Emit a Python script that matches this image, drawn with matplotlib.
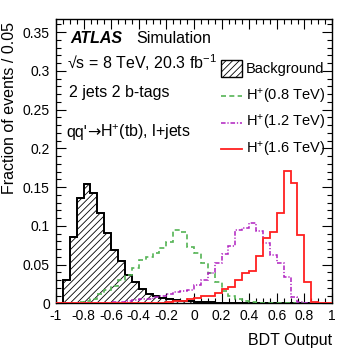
import matplotlib
matplotlib.use('Agg')
import matplotlib.pyplot as plt
import numpy as np
from matplotlib.patches import Rectangle
from matplotlib.lines import Line2D

plt.rcParams['font.family'] = ['Liberation Sans', 'DejaVu Sans']
plt.rcParams['mathtext.fontset'] = 'custom'
plt.rcParams['mathtext.rm'] = 'Liberation Sans'
plt.rcParams['mathtext.it'] = 'Liberation Sans:italic'
plt.rcParams['mathtext.bf'] = 'Liberation Sans:bold'
plt.rcParams['hatch.linewidth'] = 0.6

# ---------------- data ----------------
bin_edges = np.round(np.linspace(-1.0, 1.0, 41), 3)

background = [0.000, 0.030, 0.085, 0.136, 0.154, 0.142, 0.116, 0.091, 0.069, 0.054,
              0.037, 0.028, 0.018, 0.012, 0.009, 0.007, 0.005, 0.004, 0.003, 0.003,
              0.002, 0.002, 0.002, 0.001, 0.001, 0.001, 0.001, 0.001, 0.001, 0.001,
              0.001, 0.0008, 0.0008, 0.0006, 0.0006, 0.0005, 0.0005, 0.0004, 0.0003, 0.0002]

hp_08 = [0.000, 0.001, 0.001, 0.002, 0.003, 0.006, 0.012, 0.017, 0.022, 0.030,
         0.037, 0.045, 0.056, 0.060, 0.065, 0.072, 0.079, 0.094, 0.092, 0.073,
         0.065, 0.052, 0.039, 0.028, 0.016, 0.010, 0.005, 0.003, 0.002, 0.001,
         0.001, 0.0005, 0.0005, 0.0005, 0.0005, 0.0005, 0.0005, 0.0005, 0.0005, 0.0005]

hp_12 = [0.000, 0.000, 0.0005, 0.0005, 0.001, 0.001, 0.001, 0.001, 0.002, 0.002,
         0.003, 0.004, 0.005, 0.006, 0.008, 0.010, 0.012, 0.015, 0.016, 0.017,
         0.024, 0.030, 0.039, 0.052, 0.064, 0.074, 0.094, 0.097, 0.104, 0.093,
         0.078, 0.062, 0.052, 0.034, 0.008, 0.002, 0.0005, 0.000, 0.000, 0.000]

hp_16 = [0.0003, 0.0003, 0.0003, 0.0003, 0.0003, 0.0003, 0.0003, 0.0003, 0.0003, 0.0003,
         0.001, 0.001, 0.001, 0.001, 0.001, 0.001, 0.002, 0.003, 0.003, 0.006,
         0.007, 0.010, 0.009, 0.013, 0.018, 0.021, 0.030, 0.039, 0.042, 0.061,
         0.084, 0.092, 0.116, 0.171, 0.155, 0.088, 0.027, 0.002, 0.000, 0.000]

x_ticks = [-1.0, -0.8, -0.6, -0.4, -0.2, 0.0, 0.2, 0.4, 0.6, 0.8, 1.0]
x_ticklabels = ['-1', '-0.8', '-0.6', '-0.4', '-0.2', '0', '0.2', '0.4', '0.6', '0.8', '1']
y_ticks = [0.0, 0.05, 0.10, 0.15, 0.20, 0.25, 0.30, 0.35]
y_ticklabels = ['0', '0.05', '0.1', '0.15', '0.2', '0.25', '0.3', '0.35']

legend_labels = ['Background', r'H$^{+}$(0.8 TeV)', r'H$^{+}$(1.2 TeV)', r'H$^{+}$(1.6 TeV)']

# ---------------- figure ----------------
W, H = 349, 361
fig = plt.figure(figsize=(W / 100, H / 100), dpi=100)
ax = fig.add_axes([56 / W, 1 - 303.3 / H, 276 / W, (303.3 - 19) / H])

def fx(x):
    return x / W

def fy(y):
    return 1 - y / H

green = '#55b455'
magenta = '#b020c0'
red = '#ff2020'
hatch = '/////'

ax.stairs(background, bin_edges, fill=True, facecolor='white', edgecolor='black',
          hatch=hatch, linewidth=1.2, zorder=2)
ax.stairs(background, bin_edges, fill=False, color='black', linewidth=1.3, zorder=3)
ax.stairs(hp_08, bin_edges, color=green, linewidth=1.2, linestyle=(0, (3.0, 2.0)), zorder=4)
ax.stairs(hp_12, bin_edges, color=magenta, linewidth=1.1,
          linestyle=(0, (3.0, 1.2, 0.8, 1.2)), zorder=5)
ax.stairs(hp_16, bin_edges, color=red, linewidth=1.3, zorder=6)

ax.set_xlim(-1.0, 1.0)
ax.set_ylim(0.0, 0.367)
ax.set_xticks(x_ticks)
ax.set_xticklabels(x_ticklabels)
ax.set_yticks(y_ticks)
ax.set_yticklabels(y_ticklabels)
ax.set_xticks(np.arange(-1.0, 1.0001, 0.05), minor=True)
ax.set_yticks(np.arange(0.0, 0.367, 0.01), minor=True)
ax.tick_params(which='both', direction='in', top=True, right=True, labelsize=10, width=0.8)
ax.tick_params(which='major', length=7)
ax.tick_params(which='minor', length=3.5)
ax.tick_params(axis='x', pad=4)
ax.tick_params(axis='y', pad=4.5)
for s in ax.spines.values():
    s.set_linewidth(1.0)

ax.set_xlabel('BDT Output', fontsize=11.5, ha='right')
ax.xaxis.set_label_coords(1.0, -0.105)
fig.text(fx(10), fy(22), 'Fraction of events / 0.05', rotation=90, fontsize=11.5,
         ha='center', va='top')

# annotations
fig.text(fx(70), fy(43), 'ATLAS', fontsize=11.5, fontweight='bold', fontstyle='italic', va='baseline')
fig.text(fx(136), fy(43), 'Simulation', fontsize=11.5, va='baseline')
fig.text(fx(67), fy(69), '\u221As = 8 TeV, 20.3 fb$^{-1}$', fontsize=11.5, va='baseline')
fig.text(fx(69), fy(97), '2 jets 2 b-tags', fontsize=11.5, va='baseline')
t1 = fig.text(fx(66), fy(137), "qq'", fontsize=11.5, va='baseline')
t2 = ax.annotate('\u2192', xy=(1, fy(137)), xycoords=(t1, 'figure fraction'),
                 fontsize=11.5, va='baseline', ha='left', family='DejaVu Sans',
                 annotation_clip=False)
ax.annotate('H$^{+}$(tb), l+jets', xy=(1, fy(137)), xycoords=(t2, 'figure fraction'),
            fontsize=11.5, va='baseline', ha='left', annotation_clip=False)

# legend (manual)
leg_y = [68, 96, 122.5, 149]
leg_base = [73, 100.5, 127, 154]
fig.patches.append(Rectangle((fx(221), fy(77)), fx(21), 17 / H, transform=fig.transFigure,
                             facecolor='white', edgecolor='black', hatch=hatch, linewidth=1.0))
styles = [None,
          dict(color=green, linewidth=1.2, linestyle=(0, (3.0, 2.0))),
          dict(color=magenta, linewidth=1.1, linestyle=(0, (3.0, 1.2, 0.8, 1.2))),
          dict(color=red, linewidth=1.3)]
for i, lab in enumerate(legend_labels):
    if styles[i] is not None:
        fig.lines.append(Line2D([fx(221), fx(242)], [fy(leg_y[i]), fy(leg_y[i])],
                                transform=fig.transFigure, **styles[i]))
    fig.text(fx(246), fy(leg_base[i]), lab, fontsize=10.5, va='baseline')

fig.savefig('out.png', dpi=100)
